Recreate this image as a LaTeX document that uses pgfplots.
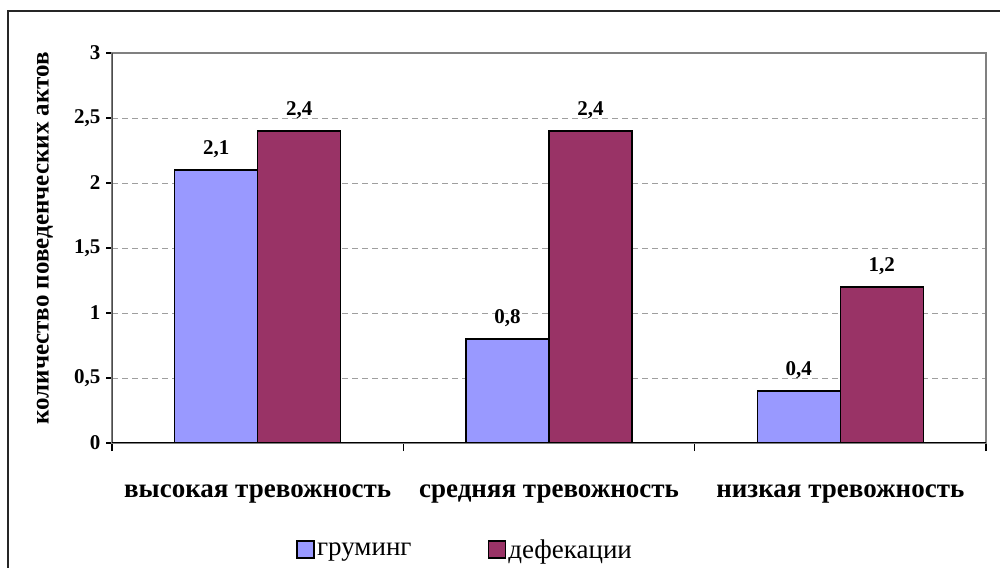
\documentclass[border=0pt]{standalone}
\usepackage{pgfplots}
\pgfplotsset{compat=1.18}
\usepackage{fontspec}
\setmainfont{Liberation Serif}
\definecolor{grum}{HTML}{9999FF}
\definecolor{defc}{HTML}{993366}
\begin{document}
\begin{tikzpicture}[x=1pt,y=1pt]
\path[use as bounding box] (0,0) rectangle (1000,567);
\draw[line width=1.5pt, black!85] (8,-2) -- (8,556) -- (1002,556);
\begin{axis}[
  at={(112pt,124pt)}, anchor=south west,
  scale only axis, width=874pt, height=390pt,
  xmin=-0.5, xmax=2.5, ymin=0, ymax=3,
  ybar=0pt, bar width=83pt,
  xtick={0,1,2},
  xticklabels={высокая тревожность, средняя тревожность, низкая тревожность},
  major x tick style={draw=none},
  minor xtick={-0.5,0.5,1.5,2.5},
  minor x tick style={black, line width=1.2pt},
  minor tick length=8pt,
  ytick={0,0.5,...,3},
  major tick length=6pt,
  y tick style={black, line width=1.2pt},
  tick align=outside,
  xtick pos=bottom, ytick pos=left,
  ymajorgrids,
  grid style={gray!75, line width=0.8pt, dash pattern=on 6pt off 4pt},
  axis line style={gray, line width=1.5pt},
  /pgf/number format/use comma,
  /pgf/number format/assume math mode=true,
  yticklabel style={font=\fontsize{21}{24}\selectfont\bfseries, xshift=-2pt},
  xticklabel style={font=\fontsize{27}{30}\selectfont\bfseries, anchor=base, yshift=-48pt},
  ylabel={количество поведенческих актов},
  ylabel style={font=\fontsize{25}{30}\selectfont\bfseries, at={(axis description cs:-0.0767,0.525)}, anchor=center},
  nodes near coords,
  nodes near coords style={font=\fontsize{21}{24}\selectfont\bfseries, black, yshift=8pt},
  legend style={at={(0.404,-0.274)}, anchor=center, draw=none, fill=none,
    legend columns=2, font=\fontsize{27}{30}\selectfont,
    /tikz/every even column/.append style={column sep=74pt}},
  legend image code/.code={\draw[#1, draw=black, line width=1.8pt] (-4pt,-8.5pt) rectangle (13pt,8.5pt);},
]
\addplot[fill=grum, draw=black, line width=1.2pt] coordinates {(0,2.1) (1,0.8) (2,0.4)};
\addplot[fill=defc, draw=black, line width=1.2pt] coordinates {(0,2.4) (1,2.4) (2,1.2)};
\legend{груминг, дефекации}
\draw[black!70, line width=1.5pt] (axis cs:-0.5,0) -- (axis cs:-0.5,3);
\draw[black, line width=1.5pt] (axis cs:-0.5,0) -- (axis cs:2.5,0);
\end{axis}
\end{tikzpicture}
\end{document}
